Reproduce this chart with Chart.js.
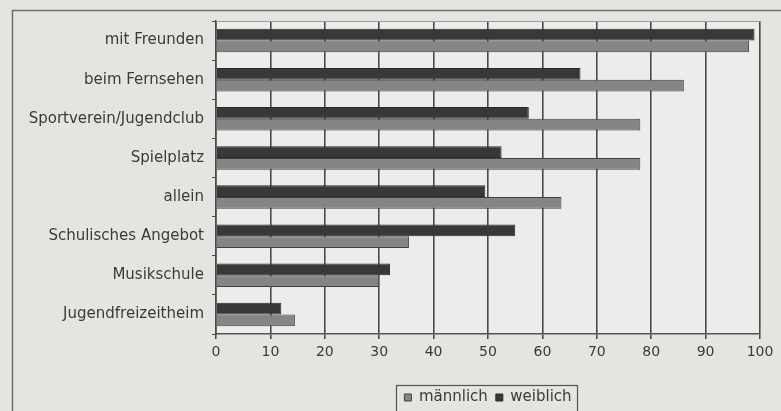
<!DOCTYPE html>
<html>
<head>
<meta charset="utf-8">
<script src="https://cdn.jsdelivr.net/npm/chart.js@4"></script>
<style>
  html, body { margin: 0; padding: 0; background: #e4e4e0; }
  #wrap { position: relative; width: 781px; height: 411px; }
</style>
</head>
<body>
<div id="wrap"><canvas id="c" width="781" height="411"></canvas></div>
<script>
const categories = ["mit Freunden", "beim Fernsehen", "Sportverein/Jugendclub", "Spielplatz", "allein", "Schulisches Angebot", "Musikschule", "Jugendfreizeitheim"];
const maennlich = [98, 86, 78, 78, 63.5, 35.5, 30, 14.5];
const weiblich = [99, 67, 57.5, 52.5, 49.5, 55, 32, 12];
const xTicks = [0, 10, 20, 30, 40, 50, 60, 70, 80, 90, 100];

const FONT = "'DejaVu Sans', sans-serif";

const framePlugin = {
  id: 'frame',
  beforeDraw(chart) {
    const ctx = chart.ctx, a = chart.chartArea;
    ctx.save();
    ctx.fillStyle = '#e4e4e0';
    ctx.fillRect(0, 0, chart.width, chart.height);
    ctx.strokeStyle = '#6f6f6f';
    ctx.lineWidth = 1.5;
    ctx.strokeRect(12.5, 10.5, 900, 500);
    ctx.fillStyle = '#ececea';
    ctx.fillRect(a.left, a.top, a.right - a.left, a.bottom - a.top);
    ctx.restore();
  },
  afterDraw(chart) {
    const ctx = chart.ctx, a = chart.chartArea, lg = chart.legend;
    ctx.save();
    ctx.strokeStyle = '#9a9a9a';
    ctx.lineWidth = 1;
    ctx.beginPath();
    ctx.moveTo(a.left, a.top + 0.5);
    ctx.lineTo(a.right, a.top + 0.5);
    ctx.stroke();
    if (lg && lg.legendHitBoxes && lg.legendHitBoxes.length) {
      const hb = lg.legendHitBoxes;
      let x0 = Infinity, x1 = -Infinity, y0 = Infinity;
      hb.forEach(b => { x0 = Math.min(x0, b.left); x1 = Math.max(x1, b.left + b.width); y0 = Math.min(y0, b.top); });
      ctx.strokeStyle = '#555';
      ctx.lineWidth = 1.2;
      ctx.strokeRect(Math.round(x0 - 8) + 0.5, Math.round(y0 - 5) + 0.5, Math.round(x1 - x0 + 14), 40);
    }
    ctx.restore();
  }
};

new Chart(document.getElementById('c'), {
  type: 'bar',
  data: {
    labels: categories,
    datasets: [
      { label: 'weiblich', data: weiblich, backgroundColor: '#383838', borderColor: '#2a2a2a', borderWidth: 1, categoryPercentage: 0.6, barPercentage: 1.0 },
      { label: 'männlich', data: maennlich, backgroundColor: '#858585', borderColor: '#404040', borderWidth: 1, categoryPercentage: 0.6, barPercentage: 1.0 }
    ]
  },
  options: {
    indexAxis: 'y',
    responsive: false,
    animation: false,
    devicePixelRatio: 1,
    layout: { padding: { top: 21, right: 21, left: 0, bottom: -4 } },
    scales: {
      x: {
        min: 0, max: 100,
        afterBuildTicks(scale) { scale.ticks = xTicks.map(v => ({ value: v })); },
        afterFit(scale) { scale.height = 48; },
        border: { color: '#555', width: 1.5 },
        grid: { color: '#4a4a4a', lineWidth: 1.6, drawTicks: true, tickLength: 5, tickColor: '#4a4a4a' },
        ticks: { color: '#3a3a3a', font: { family: FONT, size: 14 }, padding: 5, maxRotation: 0 }
      },
      y: {
        afterFit(scale) { scale.width = 216; },
        border: { color: '#4a4a4a', width: 1.5 },
        grid: { drawOnChartArea: false, drawTicks: true, tickLength: 4, offset: true, color: '#4a4a4a' },
        ticks: { color: '#3a3a3a', font: { family: FONT, size: 15 }, padding: 8 }
      }
    },
    plugins: {
      legend: {
        position: 'bottom',
        fullSize: false,
        reverse: true,
        labels: { boxWidth: 7, boxHeight: 7, color: '#3a3a3a', font: { family: FONT, size: 15 }, padding: 8 }
      },
      tooltip: { enabled: false }
    }
  },
  plugins: [framePlugin]
});
</script>
</body>
</html>
